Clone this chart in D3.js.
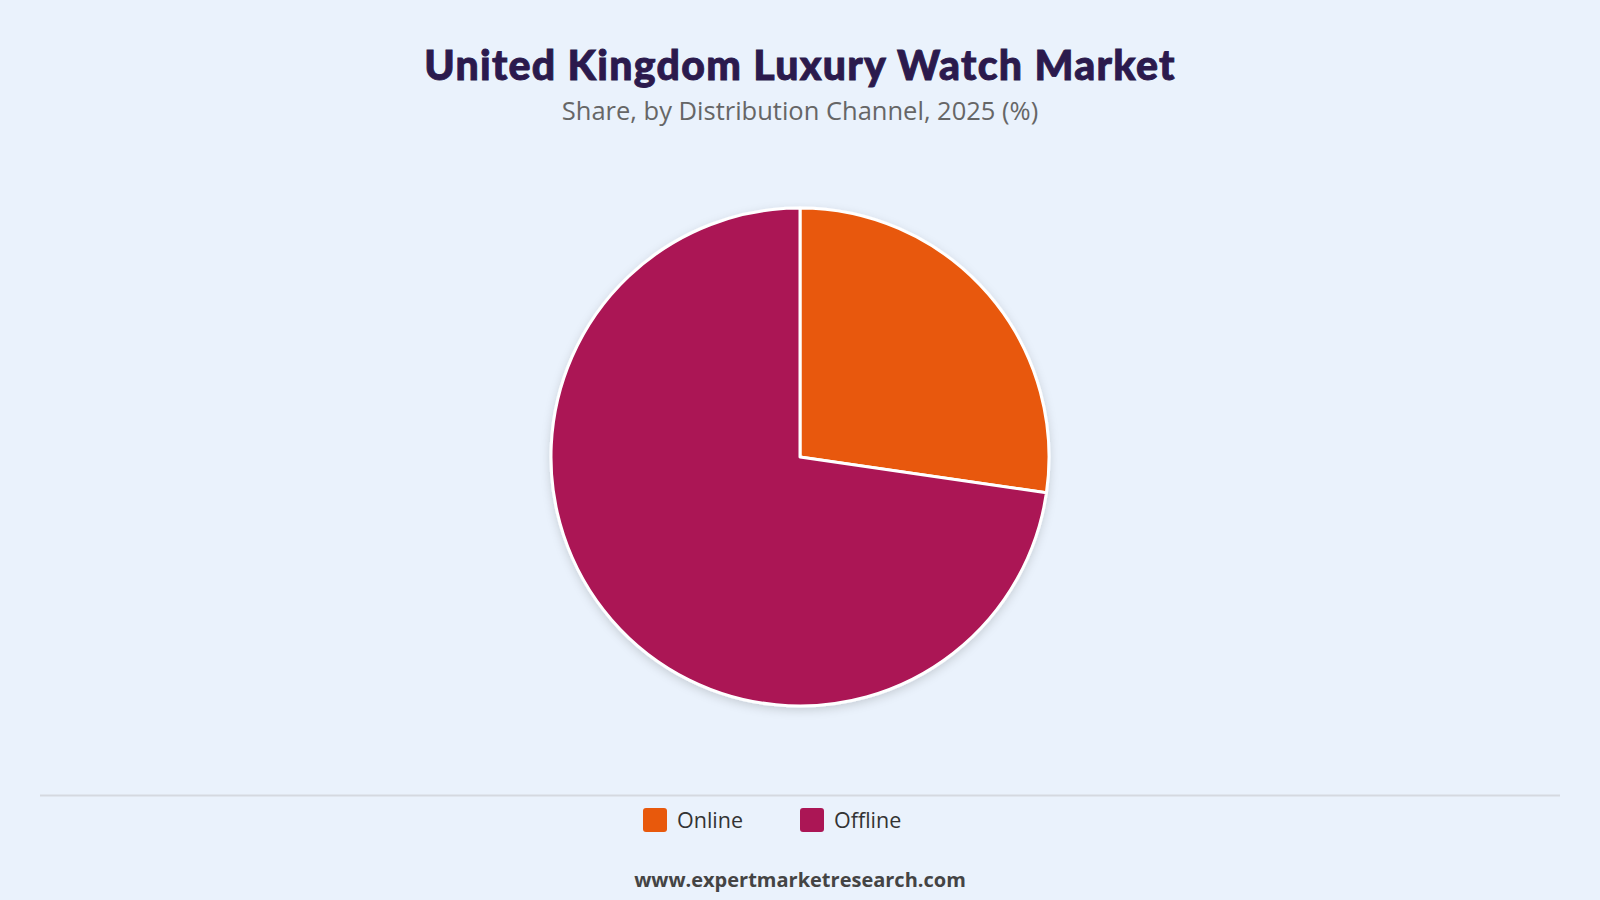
<!DOCTYPE html>
<html>
<head>
<meta charset="utf-8">
<script src="https://cdn.jsdelivr.net/npm/d3@7"></script>
<style>
  body { margin: 0; background: #eaf2fc; }
  #wrapper { width: 1600px; height: 900px; }
</style>
</head>
<body>
<div id="wrapper"></div>
<script>
var categories = ["Online", "Offline"];
var shares = [27.3, 72.7];
var colors = ["#e8590c", "#ab1655"];

function draw(){
    const parent = d3.select("#wrapper")
    parent.selectAll('*').remove()

    var width = 1600;
    var height = 900;
    var svg = parent.append("svg")
        .attr("width", width)
        .attr("height", height)

    svg.append("rect")
        .attr("width", width)
        .attr("height", height)
        .attr("fill", "#eaf2fc")

    var defs = svg.append("defs")
    var f = defs.append("filter").attr("id", "shadow")
        .attr("x", "-20%").attr("y", "-20%").attr("width", "140%").attr("height", "140%")
    f.append("feDropShadow")
        .attr("dx", 0).attr("dy", 3).attr("stdDeviation", 5)
        .attr("flood-color", "#000").attr("flood-opacity", 0.15)

    // title is heavier and wider than Lato black, so thicken it a bit
    svg.append('text')
        .attr("x", width/2)
        .attr("y", 80)
        .attr("text-anchor", "middle")
        .style("font-family", "Lato, 'Noto Sans', sans-serif")
        .style("font-weight", 900)
        .style("font-size", "41px")
        .style("letter-spacing", "1.3px")
        .style("fill", "#2b1a4d")
        .style("stroke", "#2b1a4d")
        .style("stroke-width", "0.9px")
        .text("United Kingdom Luxury Watch Market")
    svg.append('text')
        .attr("x", width/2)
        .attr("y", 120)
        .attr("text-anchor", "middle")
        .style("font-family", "'Open Sans', 'Noto Sans', sans-serif")
        .style("font-size", "25.5px")
        .style("fill", "#666666")
        .text("Share, by Distribution Channel, 2025 (%)")

    var radius = 249;
    var pie = d3.pie().sort(null).value(d => d)
    var arc = d3.arc().innerRadius(0).outerRadius(radius)

    var g = svg.append("g")
        .attr("transform", "translate(800,457)")
        .attr("filter", "url(#shadow)")
    g.selectAll("path")
        .data(pie(shares))
        .enter()
        .append("path")
        .attr("d", arc)
        .attr("fill", (d, i) => colors[i])
        .attr("stroke", "#ffffff")
        .attr("stroke-width", 3)
        .attr("stroke-linejoin", "round")

    svg.append("line")
        .attr("x1", 40).attr("x2", 1560)
        .attr("y1", 795.5).attr("y2", 795.5)
        .attr("stroke", "#d5d9e0")
        .attr("stroke-width", 2)

    var legendX = [643, 800];
    var legend = svg.selectAll(".legend")
        .data(categories)
        .enter()
        .append("g")
        .attr("transform", (d, i) => "translate(" + legendX[i] + ",808)")
    legend.append("rect")
        .attr("width", 24).attr("height", 24)
        .attr("rx", 3)
        .attr("fill", (d, i) => colors[i])
    legend.append("text")
        .attr("x", 34)
        .attr("y", 20)
        .style("font-family", "'Open Sans', 'Noto Sans', sans-serif")
        .style("font-size", "21.5px")
        .style("fill", "#333333")
        .text(d => d)

    svg.append('text')
        .attr("x", width/2)
        .attr("y", 887)
        .attr("text-anchor", "middle")
        .style("font-family", "'Open Sans', 'Noto Sans', sans-serif")
        .style("font-weight", 700)
        .style("font-size", "20px")
        .style("fill", "#444444")
        .text("www.expertmarketresearch.com")
}
draw()
</script>
</body>
</html>
